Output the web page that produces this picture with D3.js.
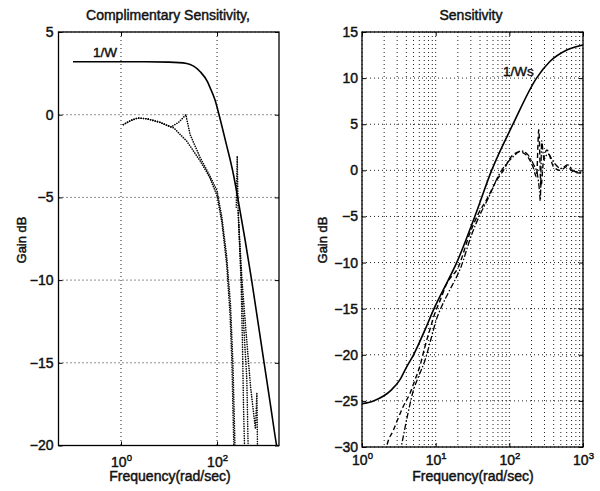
<!DOCTYPE html>
<html><head><meta charset="utf-8">
<script src="https://cdn.jsdelivr.net/npm/d3@7"></script>
<style>
body{margin:0;background:#fff}
svg{display:block;font-family:"Liberation Sans",Arial,Helvetica,sans-serif}
.grid{stroke:#222;stroke-width:1;stroke-dasharray:1,3}
.txt{fill:#111;stroke:#111;stroke-width:0.45}
</style></head><body>
<svg id="chart" width="600" height="491"></svg>
<script>
// ---- left: complementary sensitivity ----
const invW = [[0.1,3.2],[1,3.2],[3.16,3.2],[10,3.18],[23.4,3.1],[44.7,2.6],[63.1,2.0],[70.8,1.67],[91.2,0.87],
  [110,0],[155,-1.75],[219,-3.6],[269,-5],[380,-7.5],[525,-10],[708,-12.5],[955,-15],[1288,-17.5],[1738,-20],[1950,-20.8]];
const compT1 = [[1.12,-0.6],[1.6,-0.35],[2.24,-0.2],[3.5,-0.25],[6.31,-0.45],[12.6,-0.8],[23.4,-1.6],[44.7,-2.8],
  [70.8,-3.8],[100,-4.9],[126,-6.5],[158,-9],[186,-12],[204,-15],[219,-19],[229,-21]];
const compT2 = [[1.12,-0.6],[1.6,-0.35],[2.24,-0.2],[3.5,-0.25],[6.31,-0.45],[11,-0.75],[16,-0.45],[22.4,0],
  [27.5,-1.2],[44.7,-2.6],[70.8,-3.7],[100,-4.6],[126,-6.2],[158,-8.5],[191,-11.5],[214,-15],[234,-19.5],[240,-21]];
const compT3 = [[251,-5.6],[263,-2.5],[275,-5.8],[316,-10],[339,-14],[355,-17.5],[380,-21]];
const compT4 = [[275,-5.8],[324,-10.3],[363,-13],[417,-16],[447,-20.5]];
const compT5 = [[282,-6.5],[331,-10],[398,-13],[501,-16.5],[630,-19],[676,-16.8],[700,-21]];
const leftYTicks = [5, 0, -5, -10, -15, -20];
const leftXTicks = [1, 100];

// ---- right: sensitivity ----
const invWs = [[1,-25.3],[1.43,-25],[2.51,-23.8],[3.28,-22.7],[4.04,-21.3],[5.01,-20],[7.16,-17.3],[9.5,-15],
  [14.8,-11.9],[19.3,-10],[34,-5],[57.5,0],[112,5],[234,10],[355,11.8],[603,13.05],[1000,13.6]];
const sensA = [[2.1,-30.6],[2.16,-30],[2.66,-28.2],[3.63,-25.6],[4.47,-24.2],[5.25,-22.7],[6.17,-21.1],[7.16,-19.1],
  [8.32,-17.3],[9.77,-15.5],[11.5,-14.1],[14.1,-12.3],[20.4,-10.45],[29.2,-6.8],[38,-4.7],[49,-3.2],[67.6,-1.05],
  [83.2,0],[102,1.3],[138,2.0],[170,1.65],[209,0.4],[234,-0.7],[251,4.4],[269,-1.8],[288,0.75],[324,2.2],
  [398,0.4],[490,0],[603,0.4],[741,-0.15],[912,-0.3],[1000,-0.3]];
const sensB = [[3.3,-30.6],[4.17,-26.5],[5.01,-23.8],[5.82,-22.4],[7.16,-20.6],[8.83,-18],[10.2,-16.2],[12,-14.8],
  [14.8,-13.3],[22,-10.5],[31,-6.9],[40,-4.8],[52,-3.0],[71,-0.6],[89,0.6],[110,1.4],[145,2.1],[178,1.7],
  [214,0.6],[240,-0.4],[257,-2.3],[263,-3.3],[275,3.2],[295,1.2],[331,1.8],[407,0.8],[500,0.2],[620,0.6],
  [760,-0.1],[912,-0.2],[1000,-0.25]];
const rightYTicks = [15, 10, 5, 0, -5, -10, -15, -20, -25, -30];
const rightXTicks = [1, 10, 100, 1000];

const svg = d3.select("#chart");
const FS = 14;

function drawPanel(p) {
  const x = d3.scaleLog().domain(p.xDomain).range([p.left, p.right]);
  const y = d3.scaleLinear().domain(p.yDomain).range([p.bottom, p.top]);
  const g = svg.append("g");
  const clip = "clip-" + p.key;
  g.append("clipPath").attr("id", clip).append("rect")
    .attr("x", p.left).attr("y", p.top).attr("width", p.right - p.left).attr("height", p.bottom - p.top);

  // grid
  g.append("g").selectAll("line").data(p.xGrid(x)).join("line").attr("class", "grid")
    .attr("x1", (d) => x(d)).attr("x2", (d) => x(d)).attr("y1", p.top).attr("y2", p.bottom);
  g.append("g").selectAll("line").data(p.yTicks).join("line").attr("class", "grid")
    .attr("y1", (d) => y(d)).attr("y2", (d) => y(d)).attr("x1", p.left).attr("x2", p.right);

  // axes, ticks inward
  const put = (gen, tx, ty) => {
    const a = g.append("g").attr("transform", `translate(${tx},${ty})`).call(gen)
      .attr("font-size", FS).attr("font-family", null);
    a.select(".domain").remove();
    return a;
  };
  const yl = put(d3.axisLeft(y).tickValues(p.yTicks).tickSizeInner(-4).tickSizeOuter(0)
    .tickPadding(p.yPad).tickFormat(d3.format("d")), p.left, 0);
  yl.selectAll("text").attr("class", "txt");
  put(d3.axisRight(y).tickValues(p.yTicks).tickSizeInner(-4).tickSizeOuter(0).tickFormat(""), p.right, 0);
  const xb = put(d3.axisBottom(x).tickValues(p.xTicks).tickSizeInner(-4).tickSizeOuter(0).tickFormat(""), 0, p.bottom);
  put(d3.axisTop(x).tickValues(p.xTicks).tickSizeInner(-4).tickSizeOuter(0).tickFormat(""), 0, p.top);
  xb.selectAll(".tick text").each(function (d) {
    const t = d3.select(this).attr("y", p.xLabDy).attr("dy", null).attr("class", "txt");
    t.append("tspan").text("10");
    t.append("tspan").attr("dy", -6).attr("font-size", 9.5).text(Math.round(Math.log10(d)));
  });

  // frame
  g.append("rect").attr("x", p.left).attr("y", p.top).attr("width", p.right - p.left)
    .attr("height", p.bottom - p.top).attr("fill", "none").attr("stroke", "#000").attr("stroke-width", 1.3);

  // curves
  const cg = g.append("g").attr("clip-path", `url(#${clip})`).attr("fill", "none").attr("stroke", "#000");
  p.series.forEach((s) => {
    const line = d3.line().x((d) => x(d[0])).y((d) => y(d[1]))
      .curve(s.linear ? d3.curveLinear : d3.curveMonotoneX);
    cg.append("path").attr("d", line(s.data)).attr("stroke-width", s.w)
      .attr("stroke-dasharray", s.dash || null).attr("stroke-linecap", s.cap || "butt");
  });

  // texts
  const tx = (x0, y0, str, anchor, fs) => g.append("text").attr("class", "txt").attr("x", x0).attr("y", y0)
    .attr("font-size", fs || FS).attr("text-anchor", anchor || "start").text(str);
  tx(p.titleX, 20, p.title, "middle");
  tx(p.titleX + 2, 481, "Frequency(rad/sec)", "middle");
  g.append("text").attr("class", "txt").attr("transform", `translate(${p.yLabX},240) rotate(-90)`)
    .attr("font-size", 13).attr("text-anchor", "middle").text("Gain dB");
  tx(p.curveLab[0], p.curveLab[1], p.curveLab[2], "start", 13.5);
}

const dots = { w: 1.6, dash: "0.1,2.3", cap: "round", linear: true };

drawPanel({
  key: "l", left: 58.5, right: 279, top: 32, bottom: 445.5,
  xDomain: [0.05, 1950], yDomain: [-20, 5],
  xTicks: leftXTicks, yTicks: leftYTicks, xGrid: () => leftXTicks,
  yPad: 5, xLabDy: 21,
  title: "Complimentary Sensitivity,", titleX: 168, yLabX: 25.5, curveLab: [93, 57, "1/W"],
  series: [
    { data: invW, w: 1.6 },
    { data: compT1, ...dots }, { data: compT2, ...dots }, { data: compT3, ...dots },
    { data: compT4, ...dots }, { data: compT5, ...dots }
  ]
});

drawPanel({
  key: "r", left: 362, right: 583, top: 32, bottom: 447,
  xDomain: [1, 1000], yDomain: [-30, 15],
  xTicks: rightXTicks, yTicks: rightYTicks, xGrid: (x) => x.ticks(),
  yPad: 4, xLabDy: 18,
  title: "Sensitivity", titleX: 471, yLabX: 327, curveLab: [503, 76, "1/Ws"],
  series: [
    { data: invWs, w: 1.6 },
    { data: sensA, w: 1.4, dash: "5,3" },
    { data: sensB, w: 1.3, dash: "6,2,1.5,2" }
  ]
});
</script>
</body></html>
